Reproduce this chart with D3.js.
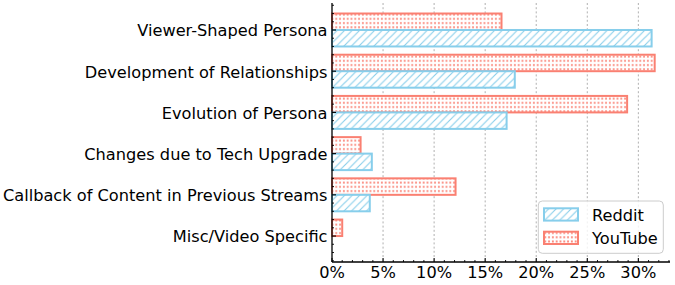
<!DOCTYPE html>
<html>
<head>
<meta charset="utf-8">
<script src="https://cdn.jsdelivr.net/npm/d3@7"></script>
<style>
html,body{margin:0;padding:0;background:#fff;}
text{font-family:"DejaVu Sans",sans-serif;}
</style>
</head>
<body>
<svg id="chart" width="675" height="285"></svg>
<script>
const categories = ["Viewer-Shaped Persona","Development of Relationships","Evolution of Persona","Changes due to Tech Upgrade","Callback of Content in Previous Streams","Misc/Video Specific"];
const redditValues = [31.3, 17.9, 17.1, 3.9, 3.7, 0];
const youtubeValues = [16.6, 31.6, 28.9, 2.8, 12.1, 1.0];
const xTicks = [0, 5, 10, 15, 20, 25, 30];
const seriesNames = ["Reddit", "YouTube"];

const svg = d3.select("#chart");
svg.append("rect").attr("width",675).attr("height",285).attr("fill","#fff");

const x = d3.scaleLinear().domain([0, 33.1]).range([332, 670]);
const y = d3.scaleLinear().domain([-0.655, 5.63]).range([3, 262]);

const redC = "#87CEEB", ytC = "#FA8072";
const defs = svg.append("defs");
const ph = defs.append("pattern").attr("id","hatchR").attr("patternUnits","userSpaceOnUse")
  .attr("width",7.5).attr("height",7.5);
ph.append("rect").attr("width",7.5).attr("height",7.5).attr("fill","#fff");
ph.append("path").attr("d","M-1,8.5 L8.5,-1 M-1,1 L1,-1 M6.5,8.5 L8.5,6.5")
  .attr("stroke",redC).attr("stroke-width",1.1);
const pd = defs.append("pattern").attr("id","hatchY").attr("patternUnits","userSpaceOnUse")
  .attr("width",3.8).attr("height",4.2);
pd.append("rect").attr("width",3.8).attr("height",4.2).attr("fill","#fff");
pd.append("rect").attr("x",0.9).attr("y",1.1).attr("width",1.9).attr("height",1.9).attr("fill",ytC).attr("opacity",0.9);

// grid
svg.append("g").selectAll("line").data(xTicks.filter(d=>d>0)).join("line")
  .attr("x1",d=>x(d)).attr("x2",d=>x(d)).attr("y1",y.range()[0]).attr("y2",y.range()[1])
  .attr("stroke","#b0b0b0").attr("stroke-width",1).attr("stroke-dasharray","2,2.2");

// bars
const bw = 0.4;
const gB = svg.append("g");
gB.selectAll("rect.yt").data(youtubeValues).join("rect").attr("class","yt")
  .attr("x",x(0)).attr("y",(d,i)=>y(i-bw)).attr("width",d=>x(d)-x(0)).attr("height",y(bw)-y(0))
  .attr("fill","url(#hatchY)").attr("stroke",ytC).attr("stroke-width",2);
gB.selectAll("rect.rd").data(redditValues).join("rect").attr("class","rd")
  .attr("x",x(0)).attr("y",(d,i)=>y(i)).attr("width",d=>x(d)-x(0)).attr("height",y(bw)-y(0))
  .attr("fill","url(#hatchR)").attr("stroke",redC).attr("stroke-width",2);

// axes spines
const ax = svg.append("g").attr("stroke","#000");
ax.append("line").attr("x1",x(0)).attr("x2",x(0)).attr("y1",y.range()[0]).attr("y2",y.range()[1]).attr("stroke-width",1.3);
ax.append("line").attr("x1",x(0)).attr("x2",670).attr("y1",y.range()[1]).attr("y2",y.range()[1]).attr("stroke-width",1.3);

// x ticks
const minorX = d3.range(1, 34).filter(d=>d%5!==0 && x(d)<=670);
ax.selectAll("line.xM").data(xTicks).join("line").attr("class","xM")
  .attr("x1",d=>x(d)).attr("x2",d=>x(d)).attr("y1",262).attr("y2",258).attr("stroke-width",1.1);
ax.selectAll("line.xm").data(minorX).join("line").attr("class","xm")
  .attr("x1",d=>x(d)).attr("x2",d=>x(d)).attr("y1",262).attr("y2",260).attr("stroke-width",0.9);
// y ticks
ax.selectAll("line.yM").data(categories.map((c,i)=>i)).join("line").attr("class","yM")
  .attr("x1",x(0)).attr("x2",x(0)+4).attr("y1",d=>y(d)).attr("y2",d=>y(d)).attr("stroke-width",1.1);
const minorY = d3.range(-6, 29).map(d=>d*0.2).filter(d=>Math.abs(d-Math.round(d))>1e-6 && y(d)>=3 && y(d)<=262);
ax.selectAll("line.ym").data(minorY).join("line").attr("class","ym")
  .attr("x1",x(0)).attr("x2",x(0)+2).attr("y1",d=>y(d)).attr("y2",d=>y(d)).attr("stroke-width",0.9);

// labels
svg.append("g").selectAll("text").data(categories).join("text")
  .attr("x",327.5).attr("y",(d,i)=>y(i)+6.3).attr("text-anchor","end")
  .attr("font-size",16.2).attr("fill","#000").text(d=>d);
svg.append("g").selectAll("text").data(xTicks).join("text")
  .attr("x",d=>x(d)).attr("y",277.5).attr("text-anchor","middle")
  .attr("font-size",16.2).attr("fill","#000").text(d=>d+"%");

// legend
const lg = svg.append("g");
lg.append("rect").attr("x",538.3).attr("y",201).attr("width",125).attr("height",52.3).attr("rx",4)
  .attr("fill","#fff").attr("fill-opacity",0.8).attr("stroke","#cccccc").attr("stroke-width",1);
const legItems = [{n:seriesNames[0], f:"url(#hatchR)", c:redC, y:208.3},{n:seriesNames[1], f:"url(#hatchY)", c:ytC, y:231.7}];
lg.selectAll("rect.p").data(legItems).join("rect").attr("class","p")
  .attr("x",544).attr("y",d=>d.y).attr("width",34).attr("height",12.3)
  .attr("fill",d=>d.f).attr("stroke",d=>d.c).attr("stroke-width",2);
lg.selectAll("text").data(legItems).join("text")
  .attr("x",592).attr("y",d=>d.y+12.3).attr("font-size",16.2).attr("fill","#000").text(d=>d.n);
</script>
</body>
</html>
